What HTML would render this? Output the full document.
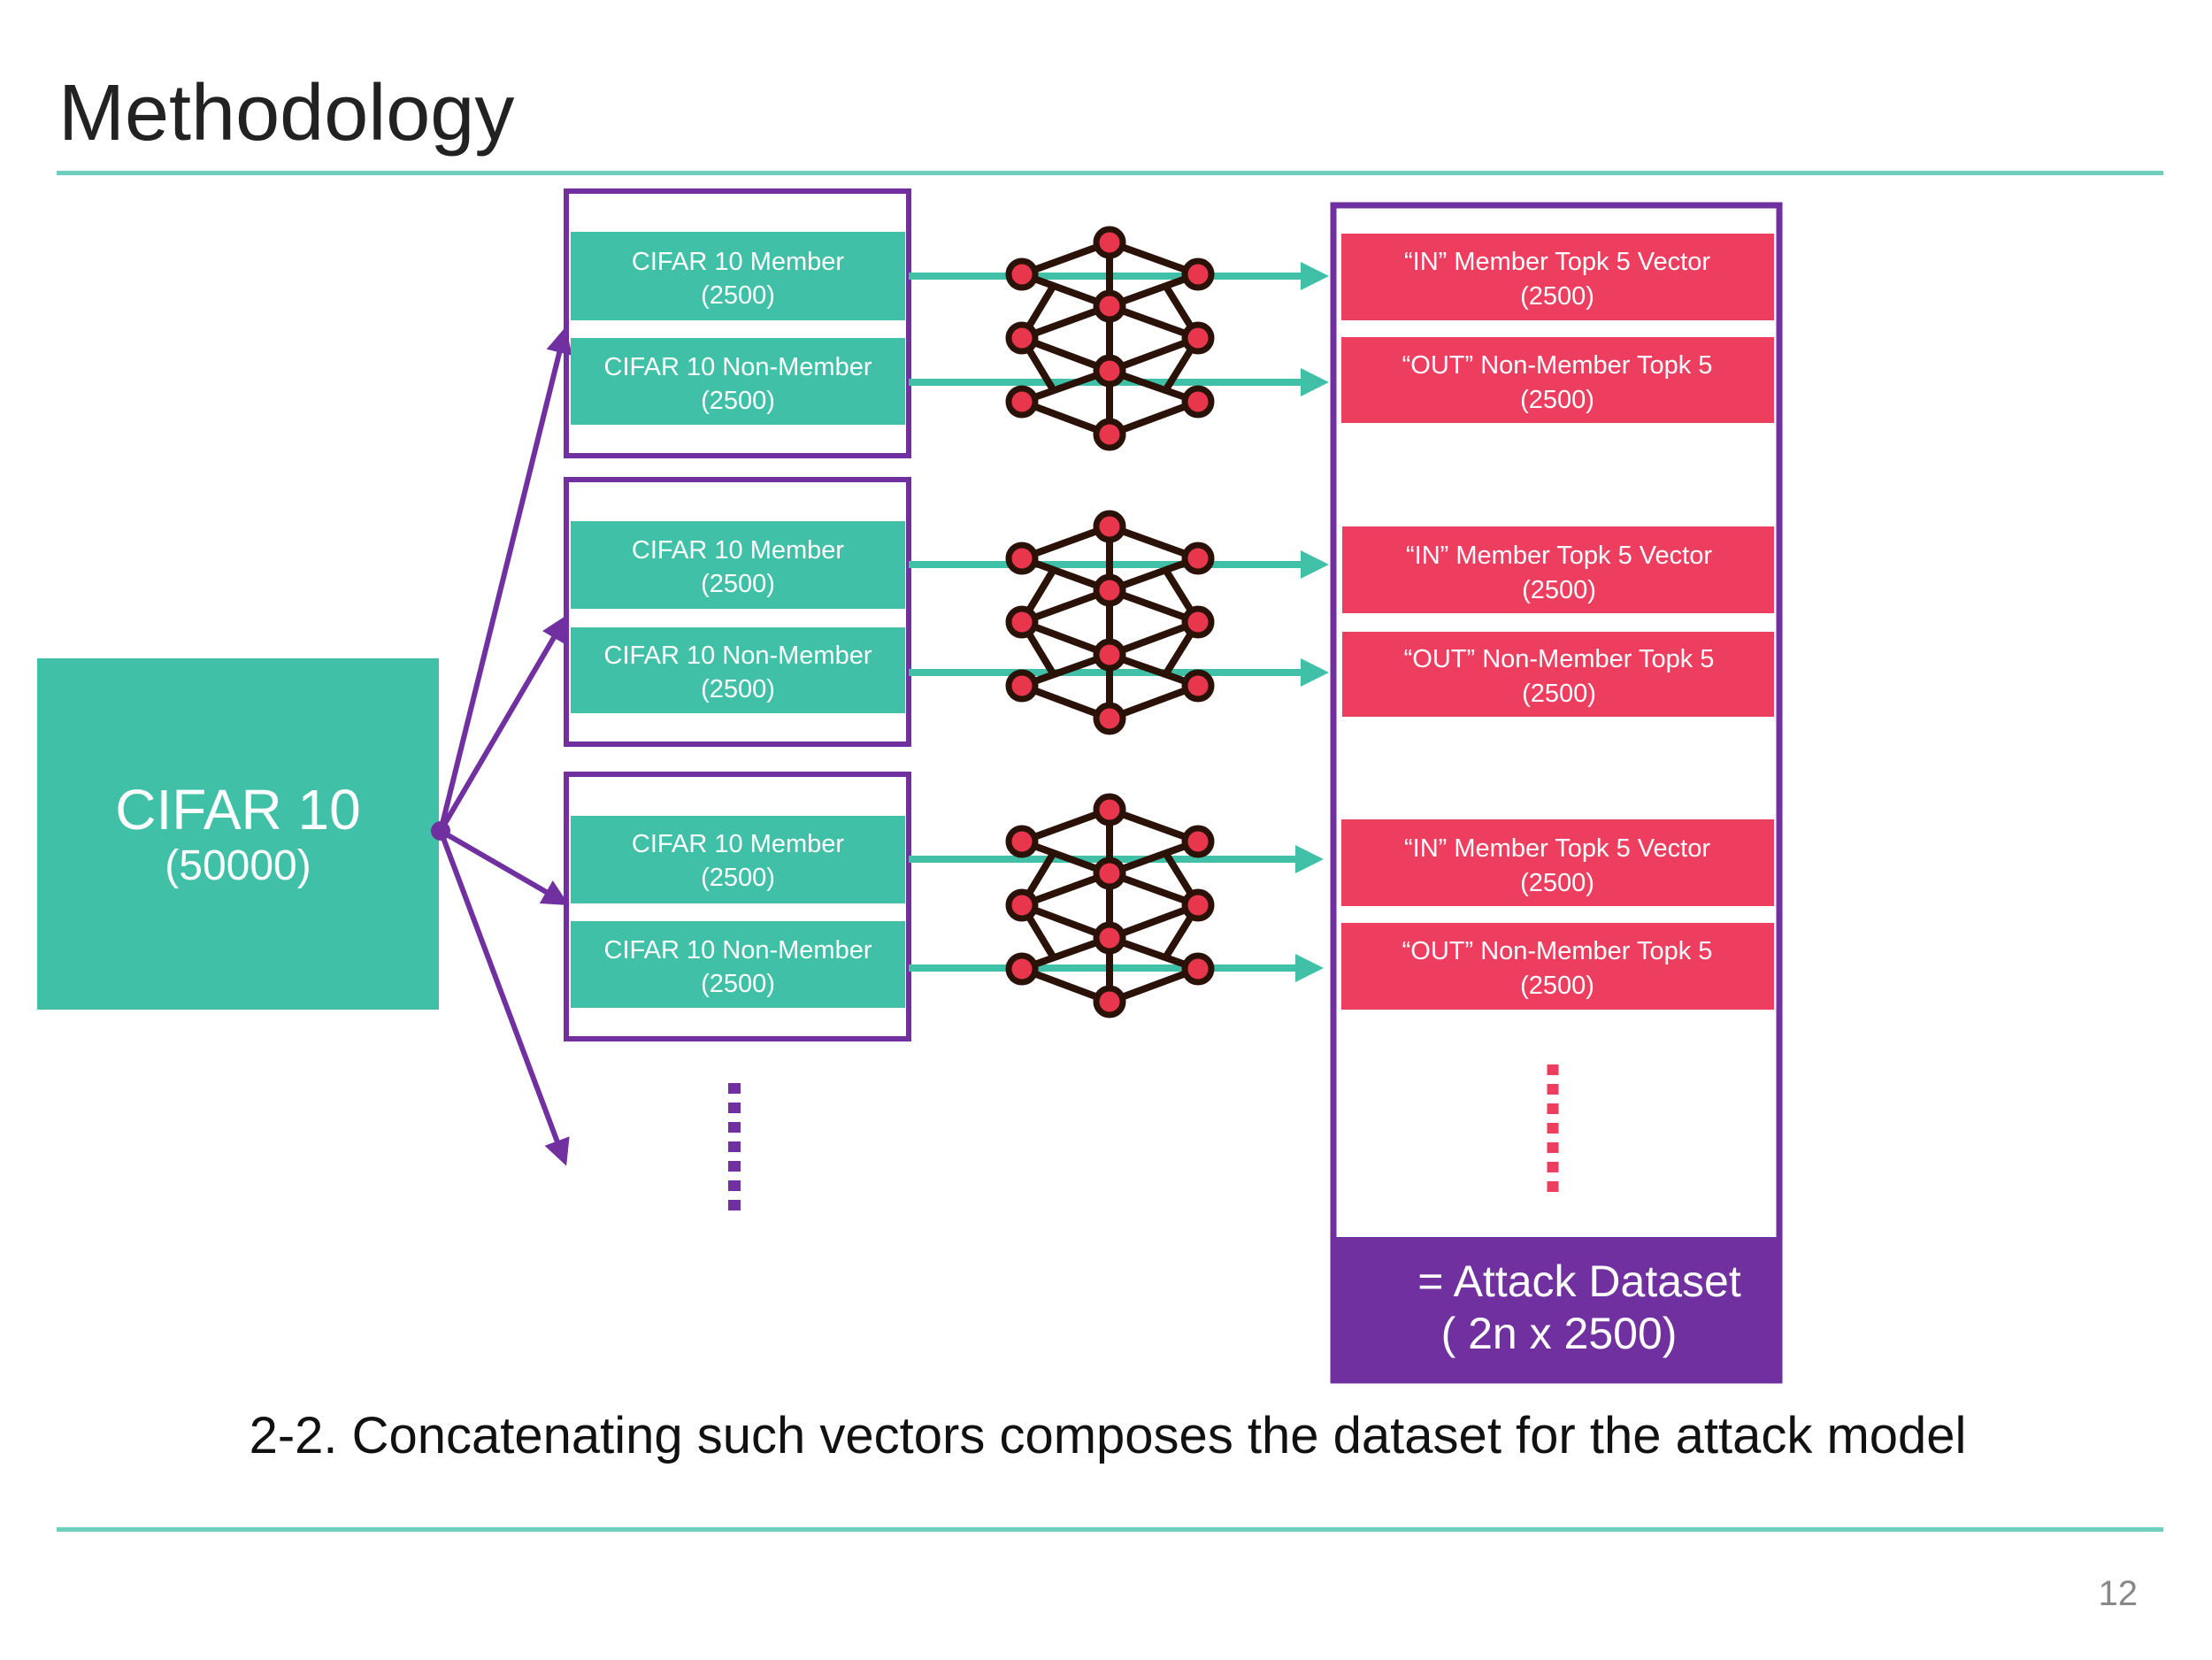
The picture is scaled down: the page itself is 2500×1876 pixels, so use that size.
<!DOCTYPE html>
<html><head><meta charset="utf-8"><style>
html,body{margin:0;padding:0;background:#fff}
svg{display:block}
text{font-family:"Liberation Sans",sans-serif}
</style></head><body>
<svg width="2500" height="1876" viewBox="0 0 2500 1876" xmlns="http://www.w3.org/2000/svg">
<defs>
<marker id="pa" markerWidth="5" markerHeight="5" refX="4" refY="2.5" orient="auto" markerUnits="strokeWidth"><path d="M0,0 L5,2.5 L0,5 Z" fill="#7030a0"/></marker>
<marker id="ta" markerWidth="4" markerHeight="4" refX="3" refY="2" orient="auto" markerUnits="strokeWidth"><path d="M0,0 L4,2 L0,4 Z" fill="#40c0a6"/></marker>
<g id="net">
<g stroke="#2a1208" stroke-width="8" stroke-linecap="round">
<line x1="1254" y1="0" x2="1254" y2="217"/>
<line x1="1254" y1="0" x2="1155" y2="36"/><line x1="1254" y1="0" x2="1354" y2="36"/>
<line x1="1155" y1="36" x2="1254" y2="72"/><line x1="1354" y1="36" x2="1254" y2="72"/>
<line x1="1254" y1="72" x2="1155" y2="108"/><line x1="1254" y1="72" x2="1354" y2="108"/>
<line x1="1155" y1="108" x2="1254" y2="145"/><line x1="1354" y1="108" x2="1254" y2="145"/>
<line x1="1254" y1="145" x2="1155" y2="180"/><line x1="1254" y1="145" x2="1354" y2="180"/>
<line x1="1155" y1="180" x2="1254" y2="217"/><line x1="1354" y1="180" x2="1254" y2="217"/>
<line x1="1190" y1="50" x2="1155" y2="108"/><line x1="1318" y1="50" x2="1354" y2="108"/>
<line x1="1155" y1="108" x2="1190" y2="166"/><line x1="1354" y1="108" x2="1318" y2="166"/>
</g>
<g fill="#e8364c" stroke="#2a1208" stroke-width="7">
<circle cx="1254" cy="0" r="15"/><circle cx="1155" cy="36" r="15"/><circle cx="1354" cy="36" r="15"/>
<circle cx="1254" cy="72" r="15"/><circle cx="1155" cy="108" r="15"/><circle cx="1354" cy="108" r="15"/>
<circle cx="1254" cy="145" r="15"/><circle cx="1155" cy="180" r="15"/><circle cx="1354" cy="180" r="15"/>
<circle cx="1254" cy="217" r="15"/>
</g>
</g>
</defs>

<text x="66" y="158" font-size="90" fill="#222">Methodology</text>
<rect x="64" y="193" width="2381" height="5" fill="#6fcfbf"/>

<rect x="42" y="744" width="454" height="397" fill="#40c0a6"/>
<text x="269" y="937" font-size="64" fill="#fff" text-anchor="middle">CIFAR 10</text>
<text x="269" y="994" font-size="48" fill="#fff" text-anchor="middle">(50000)</text>

<g stroke="#7030a0" stroke-width="6" fill="none">
<line x1="498" y1="939" x2="638" y2="375" marker-end="url(#pa)"/>
<line x1="498" y1="939" x2="638" y2="700" marker-end="url(#pa)"/>
<line x1="498" y1="939" x2="638" y2="1020" marker-end="url(#pa)"/>
<line x1="498" y1="939" x2="638" y2="1312" marker-end="url(#pa)"/>
</g>
<circle cx="498" cy="939" r="11" fill="#7030a0"/>

<g font-size="29" fill="#fff" text-anchor="middle">
<rect x="640" y="216" width="387" height="299" fill="none" stroke="#7030a0" stroke-width="6"/>
<rect x="645" y="262" width="378" height="100" fill="#40c0a6"/>
<rect x="645" y="382" width="378" height="98" fill="#40c0a6"/>
<text x="834" y="305">CIFAR 10 Member</text><text x="834" y="343">(2500)</text>
<text x="834" y="424">CIFAR 10 Non-Member</text><text x="834" y="462">(2500)</text>

<rect x="640" y="542" width="387" height="299" fill="none" stroke="#7030a0" stroke-width="6"/>
<rect x="645" y="589" width="378" height="99" fill="#40c0a6"/>
<rect x="645" y="709" width="378" height="97" fill="#40c0a6"/>
<text x="834" y="631">CIFAR 10 Member</text><text x="834" y="669">(2500)</text>
<text x="834" y="750">CIFAR 10 Non-Member</text><text x="834" y="788">(2500)</text>

<rect x="640" y="875" width="387" height="299" fill="none" stroke="#7030a0" stroke-width="6"/>
<rect x="645" y="922" width="378" height="99" fill="#40c0a6"/>
<rect x="645" y="1041" width="378" height="98" fill="#40c0a6"/>
<text x="834" y="963">CIFAR 10 Member</text><text x="834" y="1001">(2500)</text>
<text x="834" y="1083">CIFAR 10 Non-Member</text><text x="834" y="1121">(2500)</text>
</g>

<line x1="830" y1="1224" x2="830" y2="1376" stroke="#7030a0" stroke-width="14" stroke-dasharray="12,10"/>

<g stroke="#40c0a6" stroke-width="8" marker-end="url(#ta)">
<line x1="1027" y1="312" x2="1494" y2="312"/>
<line x1="1027" y1="432" x2="1494" y2="432"/>
<line x1="1027" y1="638" x2="1494" y2="638"/>
<line x1="1027" y1="760" x2="1494" y2="760"/>
<line x1="1027" y1="971" x2="1488" y2="971"/>
<line x1="1027" y1="1094" x2="1488" y2="1094"/>
</g>

<use href="#net" transform="translate(0,274)"/>
<use href="#net" transform="translate(0,595)"/>
<use href="#net" transform="translate(0,915)"/>

<rect x="1507" y="232" width="504" height="1328" fill="none" stroke="#7030a0" stroke-width="7"/>
<rect x="1504" y="1398" width="510" height="162" fill="#7030a0"/>
<text x="1785" y="1465" font-size="50" fill="#fff" text-anchor="middle">= Attack Dataset</text>
<text x="1762" y="1524" font-size="50" fill="#fff" text-anchor="middle">( 2n x 2500)</text>

<g font-size="29" fill="#fff" text-anchor="middle">
<rect x="1516" y="264" width="489" height="98" fill="#ee3e60"/>
<rect x="1516" y="381" width="489" height="97" fill="#ee3e60"/>
<rect x="1517" y="595" width="488" height="98" fill="#ee3e60"/>
<rect x="1517" y="714" width="488" height="96" fill="#ee3e60"/>
<rect x="1516" y="926" width="489" height="98" fill="#ee3e60"/>
<rect x="1516" y="1043" width="489" height="98" fill="#ee3e60"/>
<text x="1760" y="305">“IN” Member Topk 5 Vector</text><text x="1760" y="344">(2500)</text>
<text x="1760" y="422">“OUT” Non-Member Topk 5</text><text x="1760" y="461">(2500)</text>
<text x="1762" y="637">“IN” Member Topk 5 Vector</text><text x="1762" y="676">(2500)</text>
<text x="1762" y="754">“OUT” Non-Member Topk 5</text><text x="1762" y="793">(2500)</text>
<text x="1760" y="968">“IN” Member Topk 5 Vector</text><text x="1760" y="1007">(2500)</text>
<text x="1760" y="1084">“OUT” Non-Member Topk 5</text><text x="1760" y="1123">(2500)</text>
</g>
<line x1="1755" y1="1203" x2="1755" y2="1357" stroke="#ee3e60" stroke-width="13" stroke-dasharray="12,10"/>

<text x="1252" y="1642" font-size="58" fill="#111" text-anchor="middle">2-2. Concatenating such vectors composes the dataset for the attack model</text>
<rect x="64" y="1726" width="2381" height="5" fill="#6fcfbf"/>
<text x="2416" y="1814" font-size="40" fill="#888" text-anchor="end">12</text>
</svg>
</body></html>
